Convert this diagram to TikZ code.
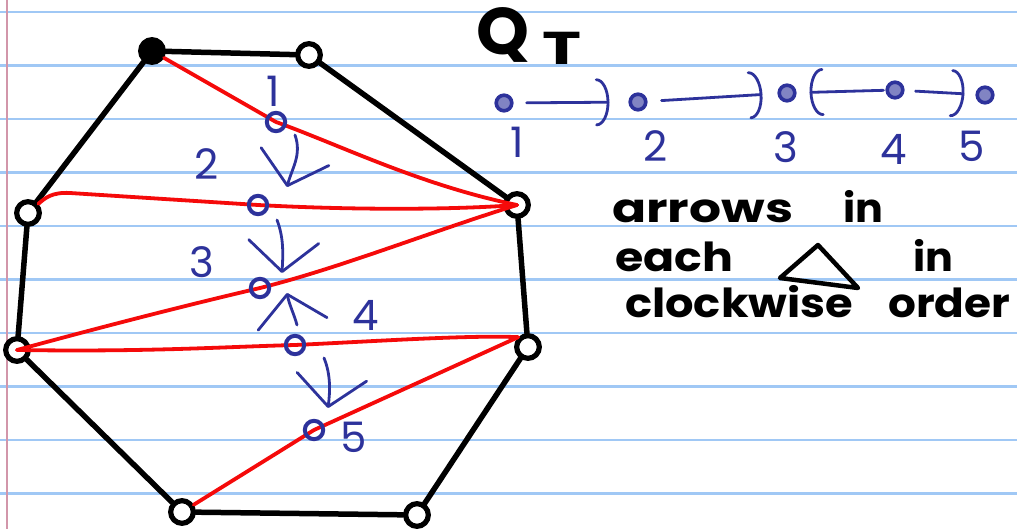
\documentclass[tikz,border=0pt]{standalone}
\usepackage{fontspec}
\setmainfont{Poppins}
\usepackage{graphicx}
\usetikzlibrary{arrows.meta}
\definecolor{ink}{RGB}{45,50,155}
\definecolor{paperrule}{RGB}{160,200,245}
\definecolor{marg}{RGB}{210,150,170}
\definecolor{diag}{RGB}{245,10,10}
\newcommand\hw[2]{\resizebox{#1}{\height}{#2}}
\begin{document}
\begin{tikzpicture}[x=1pt,y=-1pt,
  vtx/.style={circle,draw=black,line width=5.2pt,inner sep=8pt},
  dnode/.style={circle,draw=ink,line width=4pt,inner sep=6.5pt},
  qnode/.style={circle,draw=ink,fill=ink!60,line width=3.6pt,inner sep=5.5pt},
  polyedge/.style={black,line width=5.5pt,line cap=round,line join=round},
  diagline/.style={diag,line width=3.8pt,line cap=round,line join=round},
  veearrow/.style={ink,line width=2.8pt,line cap=round,-{Straight Barb[length=30pt,width=70pt,round]}},
  arcarrow/.style={ink,line width=2.8pt,line cap=round,-{Arc Barb[length=13pt,width=48pt,round]}},
  hand/.style={inner sep=0pt,anchor=base west,font=\fontsize{40}{40}\selectfont\bfseries},
  lbl/.style={inner sep=0pt,anchor=base,text=ink,font=\fontsize{42}{42}\selectfont}]
\useasboundingbox (0,0) rectangle (1017,529);
\fill[white] (0,0) rectangle (1017,529);
% ruled paper
\foreach \k in {0,...,9} \draw[paperrule,line width=2.2pt] (0,{12+53.5*\k}) -- (1017,{12+53.5*\k});
\draw[marg,line width=2pt] (7,0) -- (7,529);

% polygon vertices
\node[vtx,fill=black] (A) at (152,51) {};
\node[vtx] (B) at (309,55) {};
\node[vtx] (C) at (517,205) {};
\node[vtx] (D) at (528,347) {};
\node[vtx] (E) at (417,515) {};
\node[vtx] (F) at (182,512) {};
\node[vtx] (G) at (17,350) {};
\node[vtx] (H) at (28,213) {};

% polygon sides
\draw[polyedge] (A) -- (B);
\draw[polyedge] (B) -- (C);
\draw[polyedge] (C) -- (D);
\draw[polyedge] (D) -- (E);
\draw[polyedge] (E) -- (F);
\draw[polyedge] (F) -- (G);
\draw[polyedge] (G) -- (H);
\draw[polyedge] (H) -- (A);

% dual node positions
\coordinate (m1) at (276,122);
\coordinate (m2) at (258,205);
\coordinate (m3) at (260,288);
\coordinate (m4) at (295,345);
\coordinate (m5) at (314,430);

% diagonals
\draw[diagline] (A) -- (m1) .. controls (340,145) and (420,185) .. (C.center);
\draw[diagline] (H) .. controls (45,198) and (52,192) .. (70,193) -- (m2) .. controls (350,210) and (450,210) .. (C.center);
\draw[diagline] (G.center) .. controls (120,322) and (200,302) .. (m3) .. controls (340,268) and (430,232) .. (C.center);
\draw[diagline] (G.center) .. controls (150,352) and (220,347) .. (m4) .. controls (380,341) and (470,335) .. (D.north west);
\draw[diagline] (F) -- (m5) -- (D.north west);

% dual nodes
\node[dnode] (n1) at (m1) {};
\node[dnode] (n2) at (m2) {};
\node[dnode] (n3) at (m3) {};
\node[dnode] (n4) at (m4) {};
\node[dnode] (n5) at (m5) {};

% dual arrows
\coordinate (a1s) at (295,135); \coordinate (a1e) at (287,187);
\coordinate (a2s) at (277,220); \coordinate (a2e) at (282,273);
\coordinate (a3s) at (297,325); \coordinate (a3e) at (287,293);
\coordinate (a4s) at (324,358); \coordinate (a4e) at (328,408);
\draw[veearrow] (a1s) .. controls (302,155) and (292,168) .. (a1e);
\draw[veearrow] (a2s) .. controls (284,238) and (283,255) .. (a2e);
\draw[veearrow] (a3s) .. controls (294,314) and (289,304) .. (a3e);
\draw[veearrow] (a4s) .. controls (331,375) and (330,392) .. (a4e);

% dual labels
\node[lbl] (l1) at (273,107) {1};
\node[lbl] (l2) at (207,180) {2};
\node[lbl] (l3) at (202,278) {3};
\node[lbl] (l4) at (366,330) {4};
\node[lbl] (l5) at (354,452) {5};

% Q_T title
\node[inner sep=0pt,anchor=base west,font=\fontsize{66}{66}\selectfont\bfseries] (qtQ) at (476,55) {\hw{53pt}{Q}};
\node[inner sep=0pt,anchor=base west,font=\fontsize{46}{46}\selectfont\bfseries] (qtT) at (542,65) {\hw{39pt}{T}};

% Q_T path
\node[qnode] (q1) at (504,103) {};
\node[qnode] (q2) at (638,102) {};
\node[qnode] (q3) at (787,93) {};
\node[qnode] (q4) at (895,90) {};
\node[qnode] (q5) at (985,95) {};
\draw[arcarrow,shorten <=13pt,shorten >=19pt] (q1) -- (q2);
\draw[arcarrow,shorten <=14pt,shorten >=15pt] (q2) -- (q3);
\draw[arcarrow,shorten <=2pt,shorten >=13pt] (q4) -- (q3);
\draw[arcarrow,shorten <=11pt,shorten >=11pt] (q4) -- (q5);
\node[lbl] (r1) at (517,158) {1};
\node[lbl] (r2) at (656,162) {2};
\node[lbl] (r3) at (786,163) {3};
\node[lbl] (r4) at (894,165) {4};
\node[lbl] (r5) at (972,162) {5};

% note
\node[hand] (t1) at (612,223) {\hw{181pt}{arrows}};
\node[hand] (t2) at (843,223) {\hw{40pt}{in}};
\node[hand] (t3) at (615,272) {\hw{118pt}{each}};
\draw[black,line width=4.5pt,line join=round] (818,245) -- (780,278) -- (858,288) -- cycle;
\node[hand] (t4) at (913,272) {\hw{40pt}{in}};
\node[hand] (t5) at (625,317) {\hw{228pt}{clockwise}};
\node[hand] (t6) at (888,317) {\hw{122pt}{order}};
\end{tikzpicture}
\end{document}
